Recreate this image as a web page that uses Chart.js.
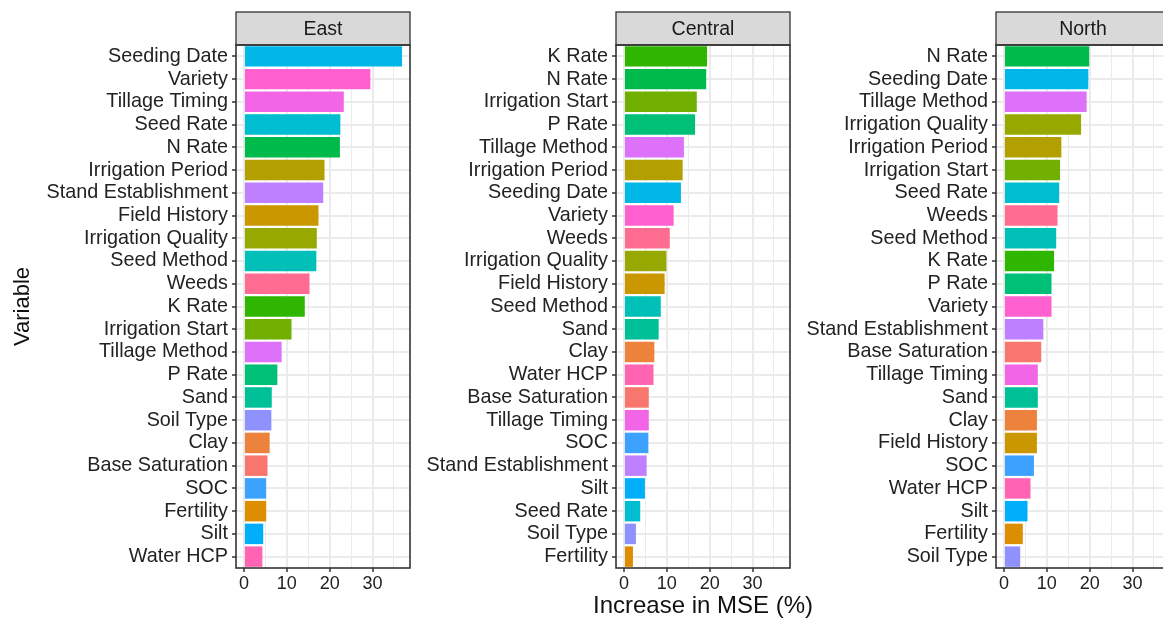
<!DOCTYPE html>
<html>
<head>
<meta charset="utf-8">
<script src="https://cdn.jsdelivr.net/npm/chart.js@4.4.1/dist/chart.umd.min.js"></script>
<style>
  html, body { margin: 0; padding: 0; background: #fff; overflow: hidden; }
  #wrap { position: relative; width: 1163px; height: 624px; overflow: hidden; }
  .panel { position: absolute; top: 0; width: 460px; height: 624px; }
</style>
</head>
<body>
<div id="wrap">
  <div class="panel" style="left:0px"><canvas id="eastChart" width="460" height="624"></canvas></div>
  <div class="panel" style="left:380px"><canvas id="centralChart" width="460" height="624"></canvas></div>
  <div class="panel" style="left:760px"><canvas id="northChart" width="460" height="624"></canvas></div>
</div>
<script>
// variables in factor (alphabetical) order -> drives the hue palette
const allVariables = ['Base Saturation', 'Clay', 'Fertility', 'Field History', 'Irrigation Period',
  'Irrigation Quality', 'Irrigation Start', 'K Rate', 'N Rate', 'P Rate', 'Sand', 'Seed Method',
  'Seed Rate', 'Seeding Date', 'Silt', 'SOC', 'Soil Type', 'Stand Establishment', 'Tillage Method',
  'Tillage Timing', 'Variety', 'Water HCP', 'Weeds'];

const eastLabels = ['Seeding Date', 'Variety', 'Tillage Timing', 'Seed Rate', 'N Rate', 'Irrigation Period',
  'Stand Establishment', 'Field History', 'Irrigation Quality', 'Seed Method', 'Weeds', 'K Rate',
  'Irrigation Start', 'Tillage Method', 'P Rate', 'Sand', 'Soil Type', 'Clay', 'Base Saturation',
  'SOC', 'Fertility', 'Silt', 'Water HCP'];
const eastValues = [36.9, 29.5, 23.3, 22.5, 22.4, 18.8, 18.5, 17.4, 17.0, 16.9, 15.3, 14.2,
  11.1, 8.8, 7.8, 6.5, 6.4, 6.0, 5.5, 5.2, 5.2, 4.5, 4.3];

const centralLabels = ['K Rate', 'N Rate', 'Irrigation Start', 'P Rate', 'Tillage Method', 'Irrigation Period',
  'Seeding Date', 'Variety', 'Weeds', 'Irrigation Quality', 'Field History', 'Seed Method', 'Sand',
  'Clay', 'Water HCP', 'Base Saturation', 'Tillage Timing', 'SOC', 'Stand Establishment', 'Silt',
  'Seed Rate', 'Soil Type', 'Fertility'];
const centralValues = [19.4, 19.2, 17.0, 16.6, 14.0, 13.7, 13.3, 11.6, 10.7, 9.9, 9.5, 8.6, 8.1,
  7.1, 6.9, 5.8, 5.8, 5.7, 5.3, 4.9, 3.8, 2.8, 2.1];

const northLabels = ['N Rate', 'Seeding Date', 'Tillage Method', 'Irrigation Quality', 'Irrigation Period',
  'Irrigation Start', 'Seed Rate', 'Weeds', 'Seed Method', 'K Rate', 'P Rate', 'Variety',
  'Stand Establishment', 'Base Saturation', 'Tillage Timing', 'Sand', 'Clay', 'Field History', 'SOC',
  'Water HCP', 'Silt', 'Fertility', 'Soil Type'];
const northValues = [19.9, 19.7, 19.3, 18.0, 13.4, 13.1, 12.9, 12.5, 12.2, 11.7, 11.1, 11.1,
  9.2, 8.7, 7.9, 7.9, 7.7, 7.7, 7.0, 6.2, 5.5, 4.4, 3.8];

const xTicks = [0, 5, 10, 15, 20, 25, 30, 35];
const xLimits = [-1.85, 38.75];

const FONT = '"Liberation Sans", Arial, sans-serif';

// ggplot-style hue palette (HCL, c = 100, l = 65)
function hcl(h, c, l) {
  const hr = h * Math.PI / 180;
  const U = c * Math.cos(hr), V = c * Math.sin(hr);
  const Xn = 95.047, Yn = 100, Zn = 108.883;
  const Y = Yn * (l > 8 ? Math.pow((l + 16) / 116, 3) : l / 903.3);
  const t = Xn + 15 * Yn + 3 * Zn;
  const u = U / (13 * l) + 4 * Xn / t;
  const v = V / (13 * l) + 9 * Yn / t;
  const X = 9 * Y * u / (4 * v);
  const Z = Y * (12 - 3 * u - 20 * v) / (4 * v);
  const x = X / 100, y = Y / 100, z = Z / 100;
  const lin = [
    3.240479 * x - 1.537150 * y - 0.498535 * z,
    -0.969256 * x + 1.875992 * y + 0.041556 * z,
    0.055648 * x - 0.204043 * y + 1.057311 * z
  ];
  const rgb = lin.map(c => {
    const g = c <= 0.0031308 ? 12.92 * c : 1.055 * Math.pow(c, 1 / 2.4) - 0.055;
    return Math.round(Math.min(1, Math.max(0, g)) * 255);
  });
  return `rgb(${rgb[0]}, ${rgb[1]}, ${rgb[2]})`;
}

const palette = {};
allVariables.forEach((name, i) => {
  palette[name] = hcl(15 + i * 360 / allVariables.length, 100, 65);
});

// facet strip, panel border and (optionally) the shared x title
const panelFrame = {
  id: 'panelFrame',
  afterDraw(chart, args, opts) {
    const { ctx, chartArea: a } = chart;
    const stripTop = 12;
    const cx = (a.left + a.right) / 2;
    ctx.save();
    ctx.fillStyle = '#D9D9D9';
    ctx.fillRect(a.left, stripTop, a.right - a.left, a.top - stripTop);
    ctx.strokeStyle = '#333333';
    ctx.lineWidth = 1.3;
    ctx.strokeRect(a.left, stripTop, a.right - a.left, a.top - stripTop);
    ctx.lineWidth = 1.6;
    ctx.strokeRect(a.left, a.top, a.right - a.left, a.bottom - a.top);
    ctx.fillStyle = '#1A1A1A';
    ctx.font = '19.5px ' + FONT;
    ctx.textAlign = 'center';
    ctx.textBaseline = 'middle';
    ctx.fillText(opts.title, cx, (stripTop + a.top) / 2 + 1);
    if (opts.xTitle) {
      ctx.fillStyle = '#111111';
      ctx.font = '24px ' + FONT;
      ctx.fillText(opts.xTitle, cx, 606);
    }
    ctx.restore();
  }
};

function makeChart(id, title, labels, values, showYTitle, xTitle) {
  const ctx = document.getElementById(id).getContext('2d');
  return new Chart(ctx, {
    type: 'bar',
    data: {
      labels: labels,
      datasets: [{
        data: values,
        backgroundColor: labels.map(l => palette[l]),
        borderWidth: 0,
        barPercentage: 0.9,
        categoryPercentage: 1.0
      }]
    },
    plugins: [panelFrame],
    options: {
      indexAxis: 'y',
      responsive: false,
      animation: false,
      layout: { padding: { top: 45, right: 50, left: 0, bottom: 0 } },
      plugins: {
        legend: { display: false },
        tooltip: { enabled: false },
        panelFrame: { title: title, xTitle: xTitle }
      },
      scales: {
        x: {
          type: 'linear',
          min: xLimits[0],
          max: xLimits[1],
          afterBuildTicks: s => { s.ticks = xTicks.map(v => ({ value: v })); },
          afterFit: s => { s.height = 56; },
          border: { display: false },
          grid: {
            color: '#EBEBEB',
            lineWidth: c => (c.tick && c.tick.value % 10 === 0 ? 2 : 1),
            tickColor: c => (c.tick && c.tick.value % 10 === 0 ? '#333333' : 'rgba(0,0,0,0)'),
            tickLength: 4,
            tickWidth: 1.5
          },
          ticks: {
            autoSkip: false,
            maxRotation: 0,
            padding: 1,
            color: '#222222',
            font: { family: FONT, size: 18, lineHeight: 1.2 },
            callback: v => (v % 10 === 0 ? String(v) : '')
          }
        },
        y: {
          type: 'category',
          afterFit: s => { s.width = 236; },
          border: { display: false },
          grid: {
            offset: false,
            color: '#EBEBEB',
            lineWidth: 2,
            tickColor: '#333333',
            tickLength: 4,
            tickWidth: 1.5
          },
          ticks: {
            autoSkip: false,
            padding: 4,
            color: '#222222',
            font: { family: FONT, size: 19.8, lineHeight: 1 }
          },
          title: {
            display: showYTitle,
            text: 'Variable',
            color: '#111111',
            font: { family: FONT, size: 22, lineHeight: 1.2 },
            padding: { top: 10, bottom: 0 }
          }
        }
      }
    }
  });
}

makeChart('eastChart', 'East', eastLabels, eastValues, true, null);
makeChart('centralChart', 'Central', centralLabels, centralValues, false, 'Increase in MSE (%)');
makeChart('northChart', 'North', northLabels, northValues, false, null);
</script>
</body>
</html>
